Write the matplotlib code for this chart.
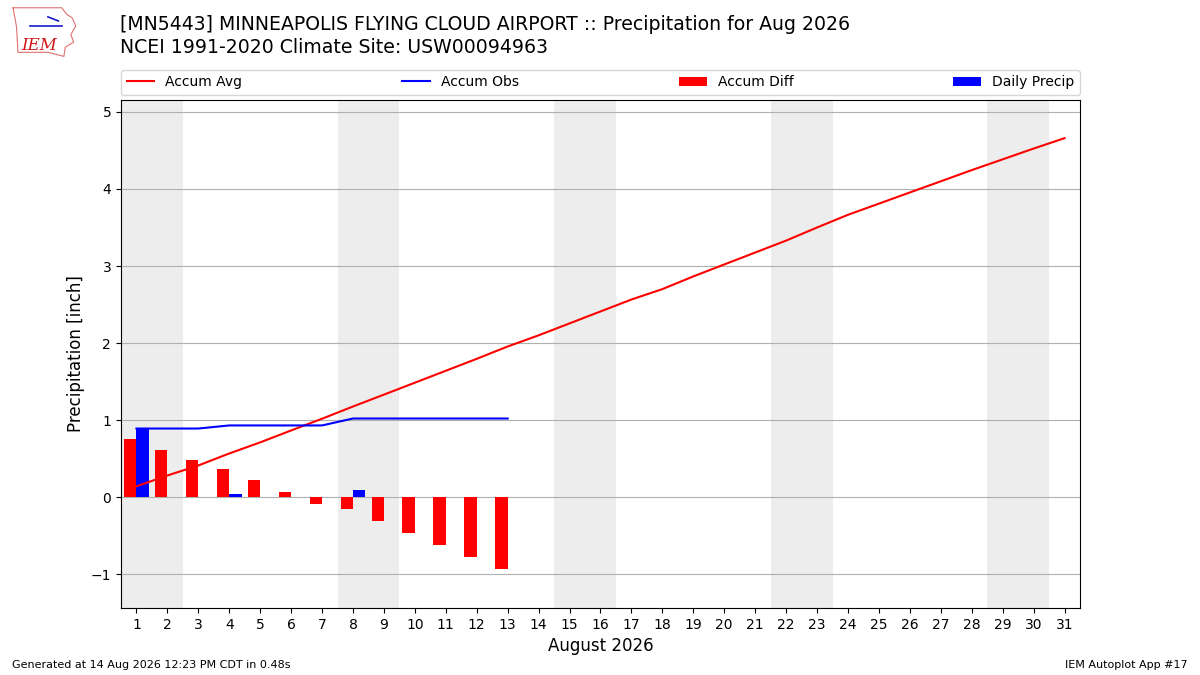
import numpy as np
import matplotlib
matplotlib.use("Agg")
import matplotlib.pyplot as plt

days = np.arange(1, 32)
obs_days = np.arange(1, 14)
accum_avg = [0.14, 0.28, 0.41, 0.566, 0.71, 0.865, 1.017, 1.176, 1.33, 1.485,
             1.64, 1.795, 1.955, 2.10, 2.255, 2.41, 2.565, 2.70, 2.865, 3.02,
             3.175, 3.33, 3.50, 3.665, 3.81, 3.955, 4.10, 4.245, 4.385, 4.525, 4.66]
daily_precip = [0.89, 0.0, 0.0, 0.04, 0.0, 0.0, 0.0, 0.09, 0.0, 0.0, 0.0, 0.0, 0.0]
weekends = [(0.5, 2.5), (7.5, 9.5), (14.5, 16.5), (21.5, 23.5), (28.5, 30.5)]
tick_labels = [str(d) for d in days]

accum_obs = np.cumsum(daily_precip)
accum_diff = accum_obs - np.array(accum_avg[:len(obs_days)])

fig = plt.figure(figsize=(12, 6.75), dpi=100)
ax = fig.add_axes([0.1008, 0.0993, 0.7992, 0.7526])

for a, b in weekends:
    ax.axvspan(a, b, color="#ededed", zorder=0, lw=0)

ax.grid(axis="y", color="#b0b0b0", lw=0.8, zorder=1)
ax.set_axisbelow(True)

l1, = ax.plot(days, accum_avg, color="red", lw=1.5, label="Accum Avg", zorder=4)
l2, = ax.plot(obs_days, accum_obs, color="blue", lw=1.5, label="Accum Obs", zorder=4)
b1 = ax.bar(obs_days - 0.4, accum_diff, width=0.4, align="edge", color="red",
            label="Accum Diff", zorder=3)
b2 = ax.bar(obs_days, daily_precip, width=0.4, align="edge", color="blue",
            label="Daily Precip", zorder=3)

ax.set_xlim(0.5, 31.5)
ax.set_ylim(-1.44, 5.156)
ax.set_xticks(days)
ax.set_xticklabels(tick_labels, fontsize=10)
ax.set_yticks(range(-1, 6))
ax.tick_params(axis="y", labelsize=10)
ax.set_xlabel("August 2026", fontsize=12)
ax.set_ylabel("Precipitation [inch]", fontsize=12)

ax.legend(handles=[l1, l2, b1, b2], loc="lower left", bbox_to_anchor=(0, 1.01, 1, 0.05),
          ncol=4, mode="expand", fontsize=10, borderaxespad=0, frameon=True)

fig.text(0.1, 0.964, "[MN5443] MINNEAPOLIS FLYING CLOUD AIRPORT :: Precipitation for Aug 2026",
         fontsize=13.6, ha="left", va="center")
fig.text(0.1, 0.929, "NCEI 1991-2020 Climate Site: USW00094963",
         fontsize=13.6, ha="left", va="center")

# rough logo: state outline with text
logo = fig.add_axes([0.008, 0.915, 0.058, 0.075])
logo.axis("off")
ox = [0.05, 0.75, 0.82, 0.9, 0.95, 0.88, 0.92, 0.8, 0.78, 0.55, 0.12, 0.1, 0.05]
oy = [0.98, 0.98, 0.85, 0.78, 0.62, 0.45, 0.3, 0.2, 0.02, 0.1, 0.1, 0.6, 0.98]
logo.plot(ox, oy, color="#e07070", lw=0.8)
logo.plot([0.3, 0.75], [0.62, 0.62], color="#1a1acc", lw=1.2)
logo.plot([0.55, 0.7], [0.8, 0.72], color="#1a1acc", lw=1.2)
logo.text(0.42, 0.24, "IEM", fontsize=12, color="#d01818", family="DejaVu Serif",
          style="italic", ha="center", va="center")
logo.set_xlim(0, 1)
logo.set_ylim(0, 1)

fig.text(0.01, 0.015, "Generated at 14 Aug 2026 12:23 PM CDT in 0.48s", fontsize=8,
         ha="left", va="center")
fig.text(0.99, 0.015, "IEM Autoplot App #17", fontsize=8, ha="right", va="center")

fig.savefig("out.png", dpi=100)
